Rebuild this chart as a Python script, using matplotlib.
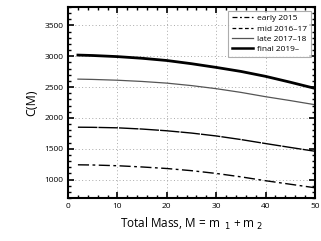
import matplotlib
matplotlib.use("Agg")
import matplotlib.pyplot as plt
from matplotlib.lines import Line2D
from matplotlib.ticker import MultipleLocator

# total mass samples and C(M)
mass = [2, 5, 10, 15, 20, 25, 30, 35, 40, 45, 50]
early = [1240, 1237, 1225, 1205, 1180, 1145, 1100, 1045, 982, 925, 868]
mid = [1850, 1848, 1840, 1820, 1792, 1755, 1708, 1650, 1585, 1522, 1460]
late = [2630, 2625, 2612, 2592, 2565, 2525, 2475, 2415, 2345, 2282, 2215]
final = [3020, 3013, 2995, 2968, 2932, 2880, 2820, 2755, 2675, 2580, 2480]

labels = ['early 2015', 'mid 2016\u201317', 'late 2017\u201318', 'final 2019\u2013']

plt.rcParams['font.family'] = ['Open Sans', 'DejaVu Sans']

fig = plt.figure(figsize=(3.21, 2.41), dpi=100)
ax = fig.add_axes([0.212, 0.178, 0.769, 0.793])

ax.plot(mass, early, color='black', lw=1.0, linestyle=(0, (8, 2.5, 2, 2.5)))
ax.plot(mass, mid, color='black', lw=1.0, linestyle=(0, (14, 0.8)))
ax.plot(mass, late, color='#555555', lw=0.9)
ax.plot(mass, final, color='black', lw=2.0)

ax.set_xlim(0, 50)
ax.set_ylim(700, 3800)
ax.xaxis.set_major_locator(MultipleLocator(10))
ax.xaxis.set_minor_locator(MultipleLocator(2))
ax.yaxis.set_major_locator(MultipleLocator(500))
ax.yaxis.set_minor_locator(MultipleLocator(100))
ax.tick_params(which='both', direction='in', top=True, right=True, labelsize=6)
ax.tick_params(which='major', length=4, width=1.2)
ax.tick_params(which='minor', length=2.5, width=1.0)
for s in ax.spines.values():
    s.set_linewidth(1.5)
ax.grid(True, which='major', linestyle=(0, (1, 2.5)), color='#aaaaaa', lw=0.7)

ax.set_xlabel('Total Mass, M = m$_{\\ \\ 1}$ + m$_{\\ 2}$', fontsize=8.5)
ax.set_ylabel('C(M)', fontsize=9)

handles = [
    Line2D([], [], color='black', lw=0.9, linestyle=(0, (4, 2, 1.5, 2))),
    Line2D([], [], color='black', lw=0.9, linestyle=(0, (3, 2))),
    Line2D([], [], color='#555555', lw=0.9),
    Line2D([], [], color='black', lw=1.8),
]
leg = ax.legend(handles, labels, loc='upper right', fontsize=6, frameon=True,
                fancybox=False, edgecolor='#999999', handlelength=2.6,
                borderpad=0.4, labelspacing=0.3, handletextpad=0.5)
leg.get_frame().set_linewidth(0.8)

fig.savefig('out.png', dpi=100)
